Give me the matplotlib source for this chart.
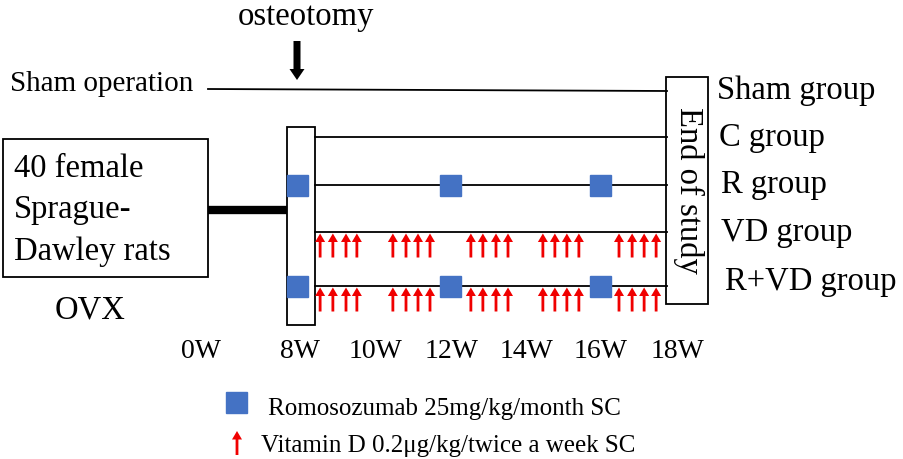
import matplotlib
matplotlib.use("Agg")
import matplotlib.pyplot as plt
from matplotlib.patches import Rectangle, Polygon
import numpy as np

# ---- data ----
week_labels = ["0W", "8W", "10W", "12W", "14W", "16W", "18W"]
groups = ["Sham group", "C group", "R group", "VD group", "R+VD group"]
romo_weeks = [8, 12, 16]
vd_weeks = [8.51, 8.85, 9.20, 9.49, 10.45, 10.80, 11.12, 11.44,
            12.53, 12.85, 13.20, 13.52, 14.45, 14.77, 15.09, 15.41,
            16.48, 16.83, 17.15, 17.47]
romo_groups = ["R group", "R+VD group"]
vd_groups = ["VD group", "R+VD group"]
legend_romo = "Romosozumab 25mg/kg/month SC"
legend_vd = "Vitamin D 0.2\u03bcg/kg/twice a week SC"
rat_lines = ["40 female", "Sprague-", "Dawley rats"]

# ---- layout ----
tick_x = [201, 300, 376, 452, 527, 601, 678]
def wx(w):
    return 301 + (w - 8) * 37.5

group_y = {"Sham group": 91, "C group": 138, "R group": 186,
           "VD group": 233, "R+VD group": 287}
label_pos = {"Sham group": (717, 99), "C group": (719, 146), "R group": (721, 193),
             "VD group": (721, 241), "R+VD group": (725, 290)}

plt.rcParams['font.family'] = ['Liberation Serif', 'DejaVu Serif']
fig = plt.figure(figsize=(9.04, 4.6), dpi=100)
ax = fig.add_axes([0, 0, 1, 1])
ax.set_xlim(0, 904)
ax.set_ylim(460, 0)
ax.axis('off')

FS = 23.5
BLUE = '#4472C4'
RED = '#F00000'

def up_arrow(x, y_tip, length, shaft_w, head_w, head_l, color):
    s = 1 if length > 0 else -1
    L = abs(length)
    yb = y_tip + s * L
    yh = y_tip + s * head_l
    pts = [(x - shaft_w / 2, yb), (x - shaft_w / 2, yh), (x - head_w / 2, yh),
           (x, y_tip), (x + head_w / 2, yh), (x + shaft_w / 2, yh), (x + shaft_w / 2, yb)]
    ax.add_patch(Polygon(pts, closed=True, color=color, lw=0, zorder=5))

# osteotomy
ax.text(306, 25, "osteotomy", ha='center', va='baseline', fontsize=FS)
up_arrow(297, 81, -39, 7, 15, 11, 'black')

# sham operation
ax.text(10, 91, "Sham operation", ha='left', va='baseline', fontsize=21)
ax.plot([208, 667], [90, 92], color='black', lw=1.3)

# left box
ax.add_patch(Rectangle((3, 140), 205, 138, fill=False, ec='black', lw=1.3))
for line, yb in zip(rat_lines, [177, 218, 260]):
    ax.text(14, yb, line, ha='left', va='baseline', fontsize=FS)
ax.text(55, 319, "OVX", ha='left', va='baseline', fontsize=FS)
ax.plot([208, 287], [211, 211], color='black', lw=6, solid_capstyle='butt')

# 8W box
ax.add_patch(Rectangle((287, 128), 28, 198, fill=False, ec='black', lw=1.3))

# group lines
for g in groups[1:]:
    ax.plot([315, 667], [group_y[g], group_y[g]], color='black', lw=1.3)

# end of study box
ax.add_patch(Rectangle((666, 78), 42, 227, fill=False, ec='black', lw=1.3, zorder=3))
ax.text(689, 190, "End of study", rotation=-90, ha='center', va='center', fontsize=FS)

for g in groups:
    x, y = label_pos[g]
    ax.text(x, y, g, ha='left', va='baseline', fontsize=FS)

# squares
for g in romo_groups:
    for w in romo_weeks:
        x = 298 if w == 8 else wx(w)
        ax.add_patch(Rectangle((x - 10.5, group_y[g] - 10.5), 21, 21, color=BLUE, zorder=4))

# vitamin D arrows
for g in vd_groups:
    y0 = group_y[g]
    for w in vd_weeks:
        up_arrow(wx(w), y0 + 1.5, 24, 2.8, 10, 8.5, RED)

# week labels
for lab, x in zip(week_labels, tick_x):
    ax.text(x, 358, lab, ha='center', va='baseline', fontsize=20)

# legend
ax.add_patch(Rectangle((226, 393), 21, 21, color=BLUE))
ax.text(268, 415, legend_romo, ha='left', va='baseline', fontsize=18)
up_arrow(237, 432, 24, 2.8, 10, 8.5, RED)
ax.text(261, 452, legend_vd, ha='left', va='baseline', fontsize=18)

fig.savefig("out.png", dpi=100)
